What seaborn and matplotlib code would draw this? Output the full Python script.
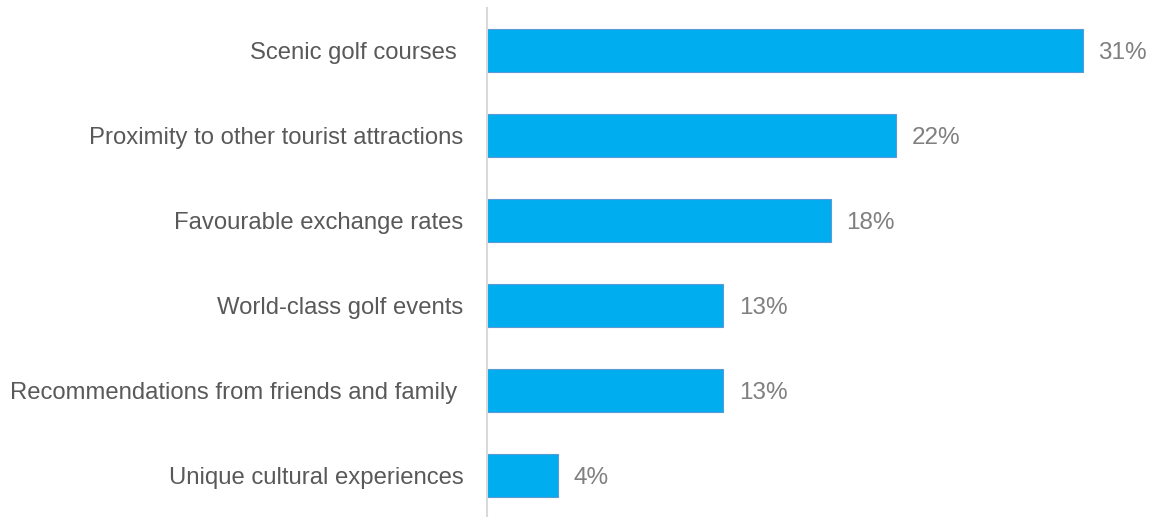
import matplotlib
matplotlib.use("Agg")
import matplotlib.pyplot as plt
import seaborn as sns
import pandas as pd

# data
reasons = [
    "Scenic golf courses ",
    "Proximity to other tourist attractions",
    "Favourable exchange rates",
    "World-class golf events",
    "Recommendations from friends and family ",
    "Unique cultural experiences",
]
shares = [31.0, 21.3, 17.9, 12.3, 12.3, 3.7]
share_labels = ["31%", "22%", "18%", "13%", "13%", "4%"]

df = pd.DataFrame({"reason": reasons, "share": shares})

sns.set_style("white")
plt.rcParams["font.family"] = ["Liberation Sans", "DejaVu Sans"]

fig = plt.figure(figsize=(11.5, 5.17), dpi=100)
ax = fig.add_axes([487 / 1150, 0, 1 - 487 / 1150, 509 / 517])

sns.barplot(data=df, x="share", y="reason", color="#00AEEF", saturation=1,
            width=0.51, edgecolor="#5B9BD5", linewidth=0.8, ax=ax)

for p, lab in zip(ax.patches, share_labels):
    ax.annotate(lab, (p.get_width(), p.get_y() + p.get_height() / 2),
                xytext=(11, 0), textcoords="offset points",
                va="center_baseline", ha="left", fontsize=17.5, color="#808080")

ax.set_xlim(0, 34.5)
ax.set_ylim(5.49, -0.5)
ax.set_xlabel("")
ax.set_ylabel("")
ax.set_xticks([])
ax.tick_params(axis="y", length=0, pad=17, labelsize=17.2, labelcolor="#595959")
for s in ["top", "right", "bottom"]:
    ax.spines[s].set_visible(False)
ax.spines["left"].set_color("#D9D9D9")
ax.spines["left"].set_linewidth(1.5)

fig.savefig("out.png", dpi=100)
